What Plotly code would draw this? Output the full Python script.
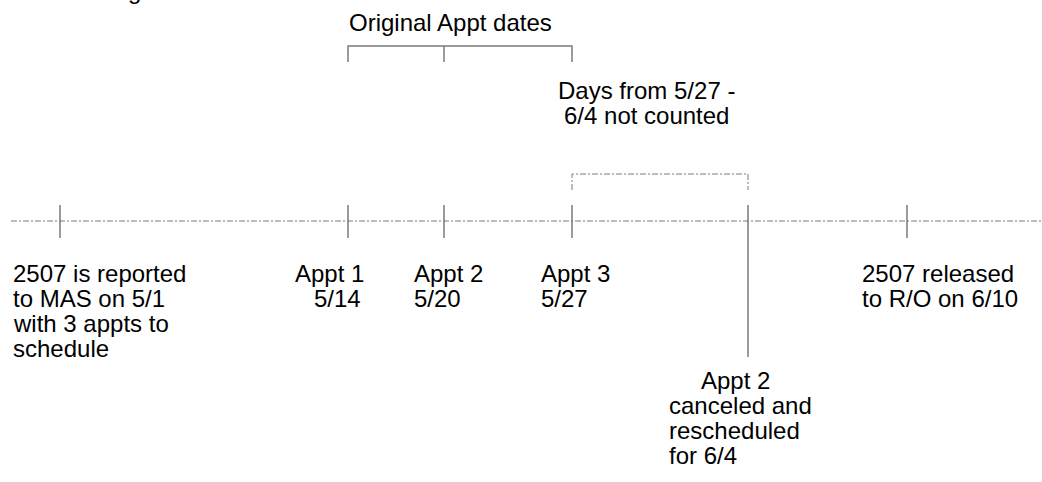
import plotly.graph_objects as go

# ---- data ----
event_names = ["Reported", "Appt 1", "Appt 2", "Appt 3", "Appt 2 rescheduled", "Released"]
event_dates = ["5/1", "5/14", "5/20", "5/27", "6/4", "6/10"]
event_pos = [60, 348, 444, 572, 748, 907]          # schematic timeline positions
original_appt_idx = [1, 2, 3]                        # original appointment dates
not_counted_idx = [3, 4]                             # 5/27 - 6/4 not counted

label_reported = ["2507 is reported", "to MAS on 5/1", "with 3 appts to", "schedule"]
label_appt1 = ["Appt 1", "5/14"]
label_appt2 = ["Appt 2", "5/20"]
label_appt3 = ["Appt 3", "5/27"]
label_released = ["2507 released", "to R/O on 6/10"]
label_resched = ["Appt 2", "canceled and", "rescheduled", "for 6/4"]
label_original = "Original Appt dates"
label_not_counted = ["Days from 5/27 -", "6/4 not counted"]

FONT = "Arial, Liberation Sans, sans-serif"
FS = 24
GRAY = "#7a7a7a"

fig = go.Figure()

# baseline (dash-dot)
fig.add_trace(go.Scatter(x=[11, 1042], y=[221, 221], mode="lines",
                         line=dict(color=GRAY, width=1, dash="6px,2px,2px,2px"),
                         hoverinfo="skip", showlegend=False))

# event ticks
for i, p in enumerate(event_pos):
    y_bot = 357 if event_names[i] == "Appt 2 rescheduled" else 238
    fig.add_trace(go.Scatter(x=[p, p], y=[205, y_bot], mode="lines",
                             line=dict(color=GRAY, width=1.5),
                             hoverinfo="skip", showlegend=False))

# bracket: original appt dates
xs = [event_pos[i] for i in original_appt_idx]
fig.add_trace(go.Scatter(x=[xs[0], xs[0], xs[-1], xs[-1]], y=[62, 46, 46, 62], mode="lines",
                         line=dict(color=GRAY, width=1.5), hoverinfo="skip", showlegend=False))
for xm in xs[1:-1]:
    fig.add_trace(go.Scatter(x=[xm, xm], y=[46, 62], mode="lines",
                             line=dict(color=GRAY, width=1.5), hoverinfo="skip", showlegend=False))

# bracket: days not counted (dash-dot)
xn = [event_pos[i] for i in not_counted_idx]
fig.add_trace(go.Scatter(x=[xn[0], xn[0], xn[1], xn[1]], y=[190, 174, 174, 190], mode="lines",
                         line=dict(color=GRAY, width=1, dash="6px,2px,2px,2px"),
                         hoverinfo="skip", showlegend=False))

ann = []
def add_lines(lines, x, y0, align="left", step=25):
    for k, t in enumerate(lines):
        ann.append(dict(x=x, y=y0 + k * step, text=t, showarrow=False, xanchor=align,
                        yanchor="middle", font=dict(family=FONT, size=FS, color="black")))

add_lines(label_reported, 11, 273)
add_lines(label_appt1[:1], 366, 273, "right")
add_lines(label_appt1[1:], 363, 298, "right")
add_lines(label_appt2, 412, 273)
add_lines(label_appt3, 539, 273)
add_lines(label_released, 860, 273)
add_lines(label_resched[:1], 699, 380)
add_lines(label_resched[1:], 667, 405)
add_lines([label_original], 347, 22)
add_lines(label_not_counted, 646, 90, "center", 25)
# clipped title fragment at the top edge (as in the reference: only the descender shows)
ann.append(dict(x=134, xref="x", y=1 + 10 / 482, yref="paper", text="g", showarrow=False,
                xanchor="center", yanchor="middle",
                font=dict(family=FONT, size=FS, color="black")))

fig.update_layout(
    width=1042, height=482,
    margin=dict(l=0, r=0, t=0, b=0),
    paper_bgcolor="white", plot_bgcolor="white",
    xaxis=dict(range=[0, 1042], visible=False, fixedrange=True),
    yaxis=dict(range=[482, 0], visible=False, fixedrange=True),
    annotations=ann,
    showlegend=False,
)

fig.write_html("out.html", config={"displayModeBar": False},
               post_script="document.body.style.margin='0';")
